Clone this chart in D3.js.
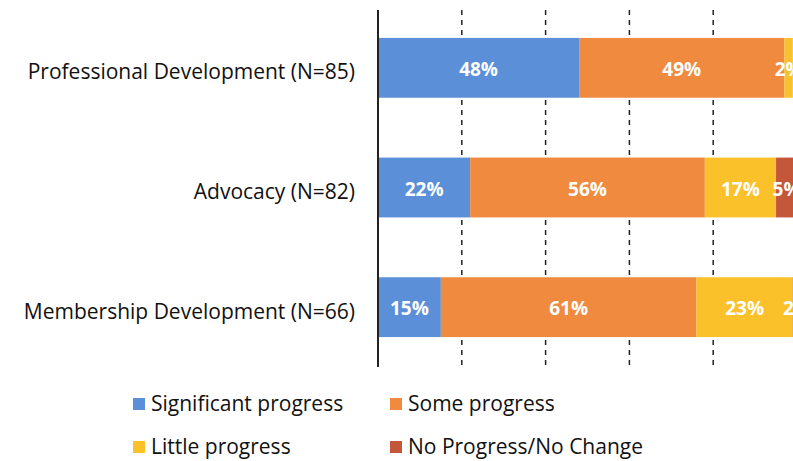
<!DOCTYPE html>
<html>
<head>
<meta charset="utf-8">
<script src="https://cdn.jsdelivr.net/npm/d3@7"></script>
<style>
  body { margin: 0; background: #fff; }
  text { font-family: "Open Sans", sans-serif; }
</style>
</head>
<body>
<svg></svg>
<script>
let WIDTH = 793;
let HEIGHT = 461;

// data
let categories = ['Professional Development (N=85)', 'Advocacy (N=82)', 'Membership Development (N=66)'];
let seriesNames = ['Significant progress', 'Some progress', 'Little progress', 'No Progress/No Change'];
let significant = [48, 22, 15];
let some = [49, 56, 61];
let little = [2, 17, 23];
let noProgress = [0, 5, 2];
let gridTicks = [20, 40, 60, 80];
let colors = ['#5b8fd8', '#f08a3e', '#fbc12a', '#c4573a'];

let svg = d3.select('svg')
    .attr('width', WIDTH)
    .attr('height', HEIGHT);

let x = d3.scaleLinear()
    .domain([0, 100])
    .range([378, 797]);

let y = d3.scaleBand()
    .domain(categories)
    .range([8, 367])
    .paddingInner(0.5)
    .paddingOuter(0.25);

// build stacked rows
let rows = categories.map((c, i) => ({
    cat: c,
    values: [significant[i], some[i], little[i], noProgress[i]]
}));
let stack = d3.stack()
    .keys([0, 1, 2, 3])
    .value((d, k) => d.values[k]);
let layers = stack(rows);

// dashed gridlines
svg.append('g')
    .classed('grid', true)
    .selectAll('line')
    .data(gridTicks)
    .enter()
    .append('line')
        .attr('x1', (d) => x(d))
        .attr('x2', (d) => x(d))
        .attr('y1', 10)
        .attr('y2', 367)
        .attr('stroke', '#222')
        .attr('stroke-width', 1.5)
        .attr('stroke-dasharray', '5,5');

// bars
let barGroups = svg.append('g')
    .classed('bars', true)
    .selectAll('g')
    .data(layers)
    .enter()
    .append('g')
        .attr('fill', (d, i) => colors[i]);

barGroups.selectAll('rect')
    .data((d) => d.filter((s) => s[1] > s[0]))
    .enter()
    .append('rect')
        .attr('x', (d) => x(d[0]))
        .attr('width', (d) => x(d[1]) - x(d[0]))
        .attr('y', (d) => y(d.data.cat))
        .attr('height', y.bandwidth());

// value labels
barGroups.selectAll('text')
    .data((d) => d.filter((s) => s[1] > s[0]))
    .enter()
    .append('text')
        .attr('x', (d) => (x(d[0]) + x(d[1])) / 2)
        .attr('y', (d) => y(d.data.cat) + y.bandwidth() / 2 + 8)
        .attr('text-anchor', 'middle')
        .attr('fill', '#fff')
        .attr('font-weight', 'bold')
        .attr('font-size', 19)
        .text((d) => (d[1] - d[0]) + '%');

// y axis
let yAxis = svg.append('g')
    .attr('transform', `translate(${x(0)},0)`)
    .call(d3.axisLeft(y).tickSize(0).tickPadding(23));
yAxis.select('.domain')
    .attr('d', 'M0,10V367')
    .attr('stroke', '#222')
    .attr('stroke-width', 2);
yAxis.selectAll('text')
    .attr('font-family', '"Open Sans", sans-serif')
    .attr('font-size', 21)
    .attr('dy', '0.55em')
    .attr('fill', '#111');

// legend
let legendPos = [[133, 404], [390, 404], [133, 447], [390, 447]];
let legend = svg.append('g')
    .classed('legend', true)
    .selectAll('g')
    .data(seriesNames)
    .enter()
    .append('g')
        .attr('transform', (d, i) => `translate(${legendPos[i][0]},${legendPos[i][1]})`);
legend.append('rect')
    .attr('x', 0)
    .attr('y', -6)
    .attr('width', 12)
    .attr('height', 12)
    .attr('fill', (d, i) => colors[i]);
legend.append('text')
    .attr('x', 18)
    .attr('y', 7)
    .attr('font-size', 21)
    .attr('fill', '#111')
    .text((d) => d);
</script>
</body>
</html>
